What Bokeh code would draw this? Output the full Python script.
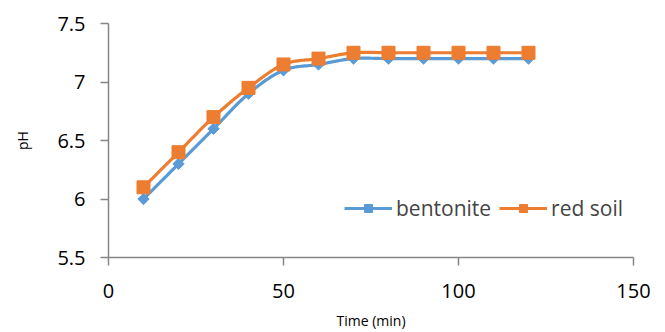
import numpy as np
from bokeh.plotting import figure
from bokeh.models import Range1d, FixedTicker, CustomJSTickFormatter, Legend, LegendItem
from bokeh.embed import file_html
from bokeh.resources import INLINE

# pH readings over time for the two soils
time_min = [10, 20, 30, 40, 50, 60, 70, 80, 90, 100, 110, 120]
ph_bentonite = [6.0, 6.3, 6.6, 6.9, 7.1, 7.15, 7.2, 7.2, 7.2, 7.2, 7.2, 7.2]
ph_red_soil = [6.1, 6.4, 6.7, 6.95, 7.15, 7.2, 7.25, 7.25, 7.25, 7.25, 7.25, 7.25]

x_ticks = [0, 50, 100, 150]
y_ticks = [5.5, 6, 6.5, 7, 7.5]

BLUE = "#5B9BD5"
ORANGE = "#ED7D31"
AXIS_GREY = "#868686"
FONT = "Open Sans"


def smooth_path(xs, ys, steps=20):
    """Cubic Bezier path through the points (spreadsheet-style smoothed line)."""
    pts = np.column_stack([np.asarray(xs, float), np.asarray(ys, float)])
    n = len(pts)
    t = np.linspace(0.0, 1.0, steps + 1)[1:, None]
    out = [pts[0]]
    for i in range(n - 1):
        p0, p3 = pts[i], pts[i + 1]
        prev = pts[i - 1] if i > 0 else p0
        nxt = pts[i + 2] if i + 2 < n else p3
        c1 = p0 + (p3 - prev) / 6.0
        c2 = p3 - (nxt - p0) / 6.0
        seg = ((1 - t) ** 3) * p0 + 3 * ((1 - t) ** 2) * t * c1 + 3 * (1 - t) * (t ** 2) * c2 + (t ** 3) * p3
        out.extend(seg)
    out = np.array(out)
    return out[:, 0], out[:, 1]


p = figure(
    width=665, height=332,
    x_range=Range1d(0, 150), y_range=Range1d(5.5, 7.5),
    toolbar_location=None, output_backend="svg",
    min_border_left=108, min_border_right=32,
    min_border_top=23, min_border_bottom=74,
)
p.outline_line_color = None
p.xgrid.visible = False
p.ygrid.visible = False
p.background_fill_color = "white"
p.border_fill_color = "white"

bx, by = smooth_path(time_min, ph_bentonite)
rx, ry = smooth_path(time_min, ph_red_soil)

b_line = p.line(bx, by, line_color=BLUE, line_width=3.2)
b_mark = p.scatter(time_min, ph_bentonite, marker="square", angle=np.pi / 4, size=8,
                   fill_color=BLUE, line_color=BLUE)
r_line = p.line(rx, ry, line_color=ORANGE, line_width=3.2)
r_mark = p.scatter(time_min, ph_red_soil, marker="square", size=13,
                   fill_color=ORANGE, line_color=ORANGE)

for ax in (p.xaxis[0], p.yaxis[0]):
    ax.axis_line_color = AXIS_GREY
    ax.axis_line_width = 1.5
    ax.major_tick_line_color = AXIS_GREY
    ax.major_tick_line_width = 1.5
    ax.major_tick_out = 8
    ax.major_tick_in = 0
    ax.minor_tick_line_color = None
    ax.major_label_text_font = FONT
    ax.major_label_text_font_size = "20px"
    ax.major_label_text_color = "#000000"
    ax.axis_label_text_font = FONT
    ax.axis_label_text_font_style = "normal"
    ax.axis_label_text_font_size = "14px"
    ax.axis_label_text_color = "#000000"
    ax.formatter = CustomJSTickFormatter(code="return String(tick);")

p.xaxis.ticker = FixedTicker(ticks=x_ticks)
p.yaxis.ticker = FixedTicker(ticks=y_ticks)
p.xaxis.axis_label = "Time (min)"
p.yaxis.axis_label = "pH"
p.xaxis.major_label_standoff = 18
p.yaxis.major_label_standoff = 15
p.xaxis.axis_label_standoff = 10
p.yaxis.axis_label_standoff = 22

legend = Legend(
    items=[
        LegendItem(label="bentonite", renderers=[b_line, b_mark]),
        LegendItem(label="red soil", renderers=[r_line, r_mark]),
    ],
    orientation="horizontal",
    location=(236, 35),
    glyph_width=48, glyph_height=20,
    label_text_font=FONT, label_text_font_size="21px",
    label_standoff=4, spacing=8, padding=0,
    border_line_color=None, background_fill_alpha=0,
)
p.add_layout(legend)

open("out.html", "w").write(file_html(p, INLINE))
